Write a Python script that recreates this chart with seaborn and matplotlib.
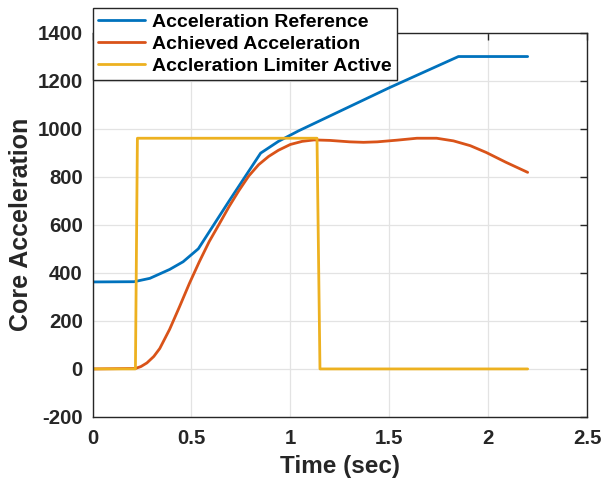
import numpy as np
import pandas as pd
import matplotlib
matplotlib.use("Agg")
import matplotlib.pyplot as plt
import seaborn as sns

# Data
ref_t = [0, 0.21, 0.29, 0.39, 0.458, 0.535, 0.69, 0.85, 0.94, 1.04, 1.5, 1.85, 2.2]
ref_v = [362, 363, 377, 414, 446, 500, 698, 898, 947, 990, 1170, 1300, 1300]

ach_t = [0, 0.217, 0.245, 0.275, 0.31, 0.34, 0.39, 0.44, 0.49, 0.54, 0.59, 0.64, 0.69, 0.74, 0.79, 0.84,
         0.89, 0.94, 1.0, 1.06, 1.12, 1.2, 1.3, 1.37, 1.44, 1.54, 1.64, 1.74, 1.825, 1.91, 1.99, 2.09, 2.2]
ach_v = [0, 2, 10, 25, 52, 85, 165, 259, 356, 446, 530, 602, 675, 742, 803, 850,
         884, 910, 934, 947, 953, 951, 945, 943, 945, 952, 960, 960, 949, 929, 901, 860, 818]

lim_t = [0, 0.217, 0.227, 1.135, 1.15, 2.2]
lim_v = [0, 0, 960, 960, 0, 0]

labels = ["Acceleration Reference", "Achieved Acceleration", "Accleration Limiter Active"]
colors = ["#0072BD", "#D95319", "#EDB120"]

xticks = [0, 0.5, 1, 1.5, 2, 2.5]
xticklabels = ["0", "0.5", "1", "1.5", "2", "2.5"]
yticks = [-200, 0, 200, 400, 600, 800, 1000, 1200, 1400]

sns.set_style("white")
plt.rcParams['font.family'] = ['Liberation Sans', 'DejaVu Sans']
plt.rcParams['font.weight'] = 'bold'
plt.rcParams['axes.unicode_minus'] = False

fig = plt.figure(figsize=(6.03, 4.83), dpi=100)
ax = fig.add_axes([92.5/603, 1-417/483, (587-92.5)/603, (417-32.5)/483])

frames = [
    pd.DataFrame({"t": ref_t, "v": ref_v}),
    pd.DataFrame({"t": ach_t, "v": ach_v}),
    pd.DataFrame({"t": lim_t, "v": lim_v}),
]
for df, lab, c in zip(frames, labels, colors):
    sns.lineplot(data=df, x="t", y="v", ax=ax, color=c, linewidth=2.0, label=lab, sort=False, estimator=None)

ax.set_xlim(0, 2.5)
ax.set_ylim(-200, 1400)
ax.set_xticks(xticks)
ax.set_xticklabels(xticklabels)
ax.set_yticks(yticks)
ax.grid(True, color="#e3e3e3", linewidth=0.9)
ax.set_axisbelow(True)
for s in ax.spines.values():
    s.set_color("#262626")
    s.set_linewidth(1.0)
ax.tick_params(direction="in", length=5, width=1, color="#262626", top=True, right=True,
               labelsize=14.7, labelcolor="#262626")
ax.tick_params(axis="x", pad=9)
ax.tick_params(axis="y", pad=7)
for lbl in ax.get_xticklabels() + ax.get_yticklabels():
    lbl.set_fontweight("bold")
ax.set_xlabel("Time (sec)", fontsize=17.5, fontweight="bold", color="#262626", labelpad=5)
ax.set_ylabel("Core Acceleration", fontsize=18, fontweight="bold", color="#262626", labelpad=3)

leg = ax.legend(loc="upper left", bbox_to_anchor=(93/603, 1-8/483), bbox_transform=fig.transFigure,
                borderaxespad=0, frameon=True, fancybox=False, framealpha=1, edgecolor="#262626",
                handlelength=2.4, handletextpad=0.35, labelspacing=0.22, borderpad=0.28,
                prop={"size": 14.0, "weight": "bold"})
leg.get_frame().set_linewidth(1.0)
for t in leg.get_texts():
    t.set_color("#000000")

fig.savefig("out.png", dpi=100)
